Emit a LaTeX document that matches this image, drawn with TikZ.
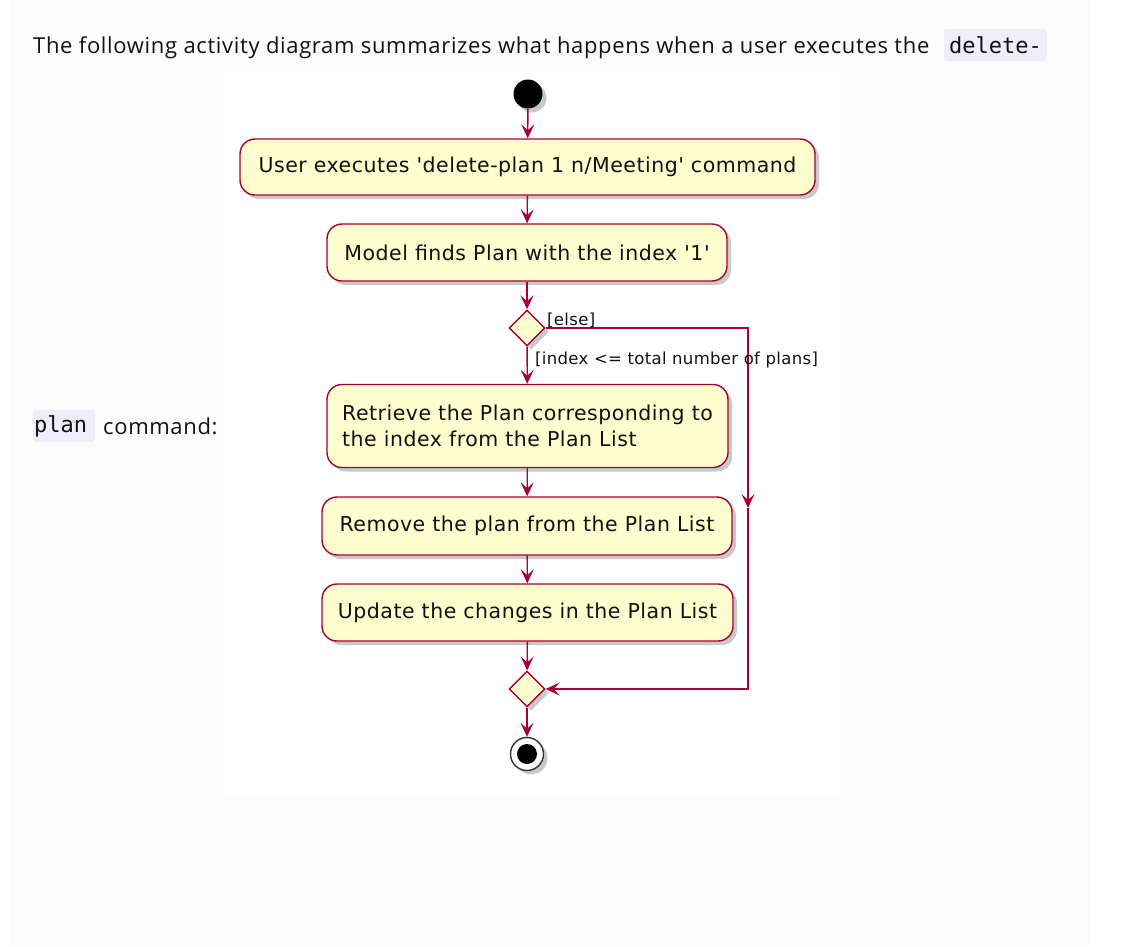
\documentclass[tikz,border=0pt]{standalone}
\usepackage{fontspec}
\setmainfont[LetterSpace=3]{Open Sans}
\newfontfamily\umlfont[LetterSpace=2.5]{DejaVu Sans}
\newfontfamily\guardfont[LetterSpace=2]{DejaVu Sans}
\newfontfamily\codefont{DejaVu Sans Mono}
\usetikzlibrary{arrows.meta,shadows,shapes.geometric}

\definecolor{umlred}{HTML}{A80036}
\definecolor{umlfill}{HTML}{FEFECE}
\definecolor{codebg}{HTML}{EEEEFA}
\definecolor{panel}{HTML}{FCFCFC}
\definecolor{ink}{HTML}{111111}

\tikzset{
  umlshadow/.style={drop shadow={shadow xshift=4pt,shadow yshift=-4pt,opacity=0.35,fill=black!60}},
  action/.style={draw=umlred,line width=1.4pt,fill=umlfill,rounded corners=15pt,
    umlshadow,font=\umlfont\fontsize{20.5}{26}\selectfont,text=ink,inner sep=0pt},
  choice/.style={diamond,draw=umlred,line width=1.4pt,fill=umlfill,umlshadow,
    minimum width=36pt,minimum height=36pt,inner sep=0pt,aspect=1},
  flow/.style={draw=umlred,line width=1.4pt,
    -{Stealth[length=14pt,width=13pt,inset=6pt]}},
  guard/.style={font=\guardfont\fontsize{16.5}{18}\selectfont,text=ink,inner sep=0pt},
  prose/.style={font=\fontsize{22}{26}\selectfont,text=ink,inner sep=0pt},
  codebox/.style={fill=codebg,rounded corners=3pt,font=\codefont\fontsize{22}{24}\selectfont,
    text=ink,minimum height=32pt,inner sep=0pt},
}

\begin{document}
\begin{tikzpicture}[x=1pt,y=-1pt]
\useasboundingbox (0,0) rectangle (1124,946);
\fill[white] (0,0) rectangle (1124,946);
\fill[panel] (10,0) rectangle (1090,946);
\fill[white] (223,65) rectangle (841,795);

% surrounding paragraph
\node[prose,anchor=base west] (intro) at (33,53)
  {The following activity diagram summarizes what happens when a user executes the};
\node[codebox,minimum width=103pt] (cmdA) at (995.5,45) {delete-};
\node[codebox,anchor=west,text width=60pt,align=left,inner xsep=1pt] (cmdB) at (33,426) {plan};
\node[prose,anchor=base west] (tail) at (103,434) {command:};

% activity diagram
\node[circle,fill=black,minimum size=29pt,inner sep=0pt,umlshadow] (start) at (528,94) {};

\node[action,minimum width=575pt,minimum height=56pt] (a1) at (527.5,167)
  {User executes 'delete-plan 1 n/Meeting' command};
\node[action,minimum width=400pt,minimum height=57pt] (a2) at (527,252.5)
  {Model finds Plan with the index '1'};
\node[choice] (d1) at (527,328) {};
\node[action,minimum width=401pt,minimum height=83pt,align=left] (a3) at (527.5,426)
  {Retrieve the Plan corresponding to\\the index from the Plan List};
\node[action,minimum width=410pt,minimum height=58pt] (a4) at (527,526)
  {Remove the plan from the Plan List};
\node[action,minimum width=411pt,minimum height=57pt] (a5) at (527.5,612.5)
  {Update the changes in the Plan List};
\node[choice] (d2) at (527,689) {};
\node[circle,draw=black!80,line width=1.4pt,fill=white,minimum size=33pt,inner sep=0pt,umlshadow] (stop) at (527,754) {};
\node[circle,fill=black,minimum size=20pt,inner sep=0pt] (stopdot) at (stop.center) {};

\coordinate (elseTop) at (748,328);
\coordinate (elseMid) at (748,508);
\coordinate (elseBot) at (748,689);

\draw[flow] (start) -- (a1);
\draw[flow] (a1) -- (a2);
\draw[flow] (a2) -- (d1);
\draw[flow] (d1) -- (a3);
\draw[flow] (a3) -- (a4);
\draw[flow] (a4) -- (a5);
\draw[flow] (a5) -- (d2);
\draw[flow] (d2) -- (stop);
\draw[flow] (d1.east) -- (elseTop) -- (elseMid);
\draw[flow] (elseMid) -- (elseBot) -- (d2.east);

\node[guard,anchor=base west] (gElse) at (547,325) {[else]};
\node[guard,anchor=base west] (gIdx) at (535,364) {[index <= total number of plans]};
\end{tikzpicture}
\end{document}
